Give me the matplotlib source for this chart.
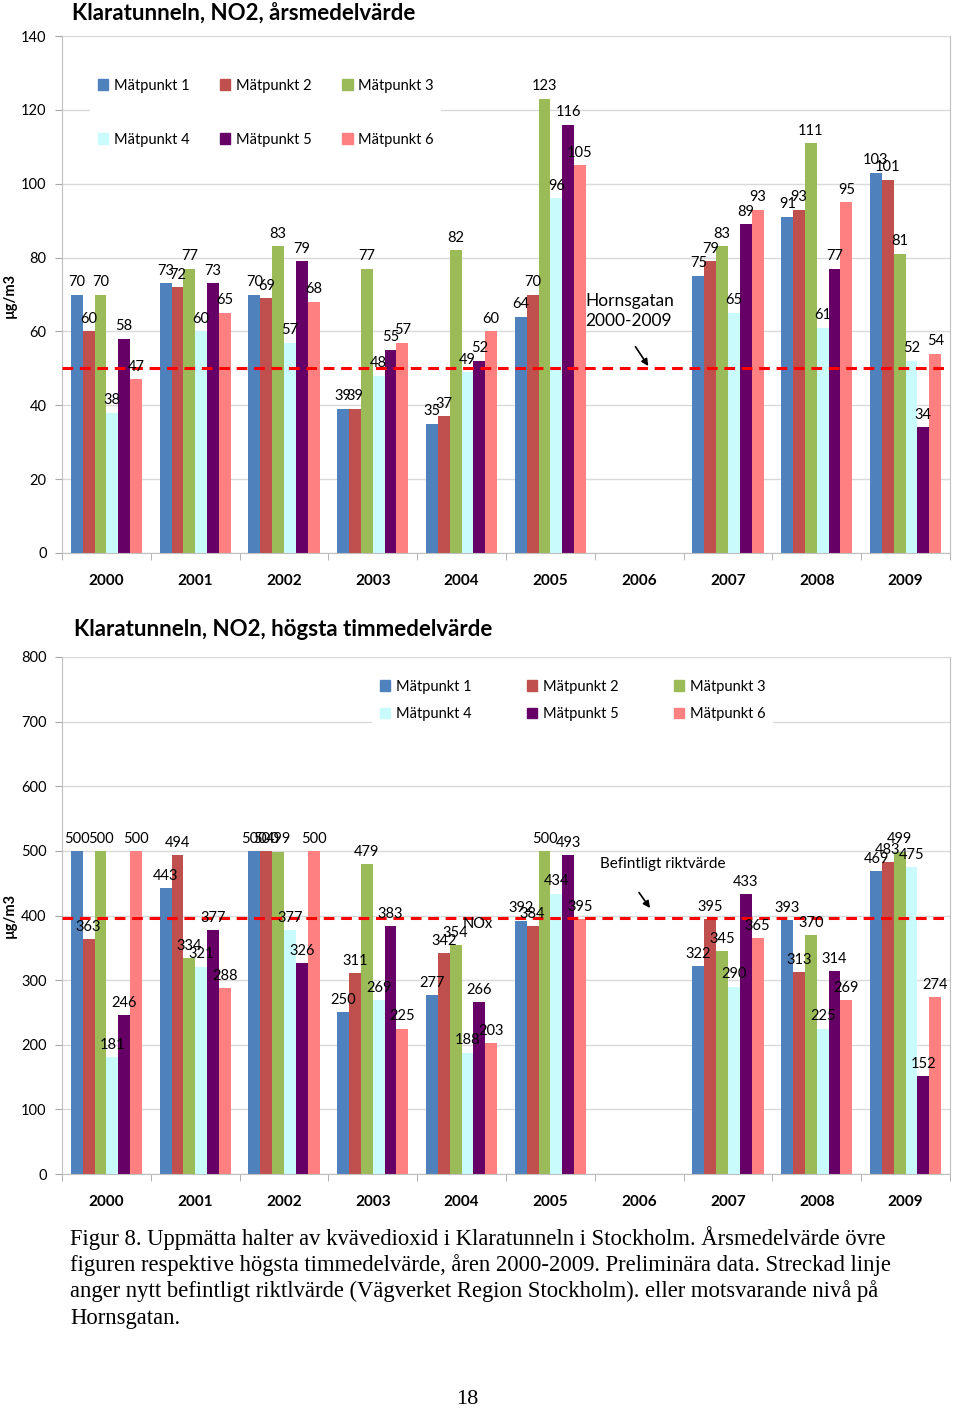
import matplotlib
matplotlib.use('Agg')
import matplotlib.pyplot as plt
from matplotlib.patches import Patch
import numpy as np

# Data ###########################################
years = ['2000', '2001', '2002', '2003', '2004', '2005', '2006', '2007', '2008', '2009']
series_names = ['Mätpunkt 1', 'Mätpunkt 2', 'Mätpunkt 3', 'Mätpunkt 4', 'Mätpunkt 5', 'Mätpunkt 6']
colors = ['#4F81BD', '#C0504D', '#9BBB59', '#C9FBFC', '#660066', '#FF8080']

nan = np.nan
# annual mean (årsmedelvärde)
annual_m1 = [70, 73, 70, 39, 35, 64, nan, 75, 91, 103]
annual_m2 = [60, 72, 69, 39, 37, 70, nan, 79, 93, 101]
annual_m3 = [70, 77, 83, 77, 82, 123, nan, 83, 111, 81]
annual_m4 = [38, 60, 57, 48, 49, 96, nan, 65, 61, 52]
annual_m5 = [58, 73, 79, 55, 52, 116, nan, 89, 77, 34]
annual_m6 = [47, 65, 68, 57, 60, 105, nan, 93, 95, 54]
annual_limit = 50

# highest hourly mean (högsta timmedelvärde)
hourly_m1 = [500, 443, 500, 250, 277, 392, nan, 322, 393, 469]
hourly_m2 = [363, 494, 500, 311, 342, 384, nan, 395, 313, 483]
hourly_m3 = [500, 334, 499, 479, 354, 500, nan, 345, 370, 499]
hourly_m4 = [181, 321, 377, 269, 188, 434, nan, 290, 225, 475]
hourly_m5 = [246, 377, 326, 383, 266, 493, nan, 433, 314, 152]
hourly_m6 = [500, 288, 500, 225, 203, 395, nan, 365, 269, 274]
hourly_limit = 396

caption = ["Figur 8. Uppmätta halter av kvävedioxid i Klaratunneln i Stockholm. Årsmedelvärde övre",
           "figuren respektive högsta timmedelvärde, åren 2000-2009. Preliminära data. Streckad linje",
           "anger nytt befintligt riktlvärde (Vägverket Region Stockholm). eller motsvarande nivå på",
           "Hornsgatan."]

plt.rcParams['font.family'] = ['Lato', 'DejaVu Sans']

W, H = 960, 1413
fig = plt.figure(figsize=(W / 100, H / 100), dpi=100)


def px_axes(left, top, right, bottom):
    return fig.add_axes([left / W, 1 - bottom / H, (right - left) / W, (bottom - top) / H])


def draw_panel(ax, data, ymax, ystep, limit, label_off):
    x = np.arange(len(years))
    width = 0.8 / 6
    for i, (vals, c) in enumerate(zip(data, colors)):
        pos = x - 0.4 + width * (i + 0.5)
        ax.bar(pos, vals, width, color=c, zorder=2, linewidth=0)
        for p, v in zip(pos, vals):
            if not np.isnan(v):
                ax.text(p, v + label_off, str(int(v)), ha='center', va='bottom',
                        fontsize=10.5, zorder=4)
    ax.axhline(limit, color='#FF0000', lw=2.2, linestyle=(0, (3.5, 2.2)), zorder=3)
    ax.set_xlim(-0.5, len(years) - 0.5)
    ax.set_ylim(0, ymax)
    ax.set_yticks(np.arange(0, ymax + 1, ystep))
    ax.yaxis.grid(True, color='#D9D9D9', lw=1)
    ax.set_axisbelow(True)
    ax.set_xticks(x)
    ax.set_xticklabels(years, fontweight='bold', fontsize=11)
    ax.set_xticks(np.arange(-0.5, len(years)), minor=True)
    ax.tick_params(axis='x', which='major', length=0, pad=15)
    ax.tick_params(axis='x', which='minor', length=5, color='#A6A6A6')
    ax.tick_params(axis='y', length=5, color='#A6A6A6', labelsize=10.5, pad=6)
    ax.spines['top'].set_visible(False)
    for s in ['left', 'bottom', 'right']:
        ax.spines[s].set_color('#BFBFBF')


# legend filled row by row (matplotlib fills column by column)
handles = [Patch(color=c, label=n) for c, n in zip(colors, series_names)]
leg_handles = [handles[i] for i in [0, 3, 1, 4, 2, 5]]
leg_style = dict(ncol=3, loc='upper left', bbox_transform=fig.transFigure, frameon=True,
                 edgecolor='none', facecolor='white', framealpha=1, fancybox=False,
                 fontsize=10.5, handlelength=0.7, handleheight=0.7, handletextpad=0.4,
                 borderpad=0.5)

# Top panel: annual mean #########################
ax1 = px_axes(62, 36, 950, 553)
draw_panel(ax1, [annual_m1, annual_m2, annual_m3, annual_m4, annual_m5, annual_m6],
           140, 20, annual_limit, 1.5)
ax1.legend(handles=leg_handles, bbox_to_anchor=(83 / W, 1 - 64 / H),
           columnspacing=2.1, labelspacing=2.75, **leg_style)
ax1.annotate('', xy=(6.12, annual_limit), xytext=(5.94, 56.5),
             arrowprops=dict(arrowstyle='-|>', color='black', lw=1.2, mutation_scale=10), zorder=5)
ax1.text(5.39, 65.5, 'Hornsgatan\n2000-2009', ha='left', va='center', fontsize=12.5,
         linespacing=1.25, zorder=5)
fig.text(72 / W, 1 - 14 / H, 'Klaratunneln, NO2, årsmedelvärde', fontsize=16,
         fontweight='bold', ha='left', va='center')
fig.text(10 / W, 1 - 295 / H, 'µg/m3', rotation=90, fontsize=10.5, fontweight='bold',
         ha='center', va='center')

# Bottom panel: highest hourly mean ##############
ax2 = px_axes(62, 657, 950, 1174)
draw_panel(ax2, [hourly_m1, hourly_m2, hourly_m3, hourly_m4, hourly_m5, hourly_m6],
           800, 100, hourly_limit, 8)
ax2.legend(handles=leg_handles, bbox_to_anchor=(365 / W, 1 - 665 / H),
           columnspacing=3.8, labelspacing=0.95, **leg_style)
ax2.annotate('', xy=(6.14, 408), xytext=(5.98, 439),
             arrowprops=dict(arrowstyle='-|>', color='black', lw=1.2, mutation_scale=10), zorder=5)
ax2.text(5.56, 479.5, 'Befintligt riktvärde', ha='left', va='center', fontsize=11, zorder=5)
ax2.text(4.18, 387, 'NOx', ha='center', va='center', fontsize=10.5, zorder=5)
fig.text(74 / W, 1 - 629 / H, 'Klaratunneln, NO2, högsta timmedelvärde', fontsize=16,
         fontweight='bold', ha='left', va='center')
fig.text(10 / W, 1 - 915 / H, 'µg/m3', rotation=90, fontsize=10.5, fontweight='bold',
         ha='center', va='center')

# Caption ########################################
for i, line in enumerate(caption):
    fig.text(70 / W, 1 - (1238 + 26.7 * i) / H, line, fontsize=16.3, family='Liberation Serif',
             ha='left', va='center')
fig.text(467 / W, 1 - 1400 / H, '18', fontsize=16, family='Liberation Serif',
         ha='center', va='center')

fig.savefig('out.png', dpi=100)
